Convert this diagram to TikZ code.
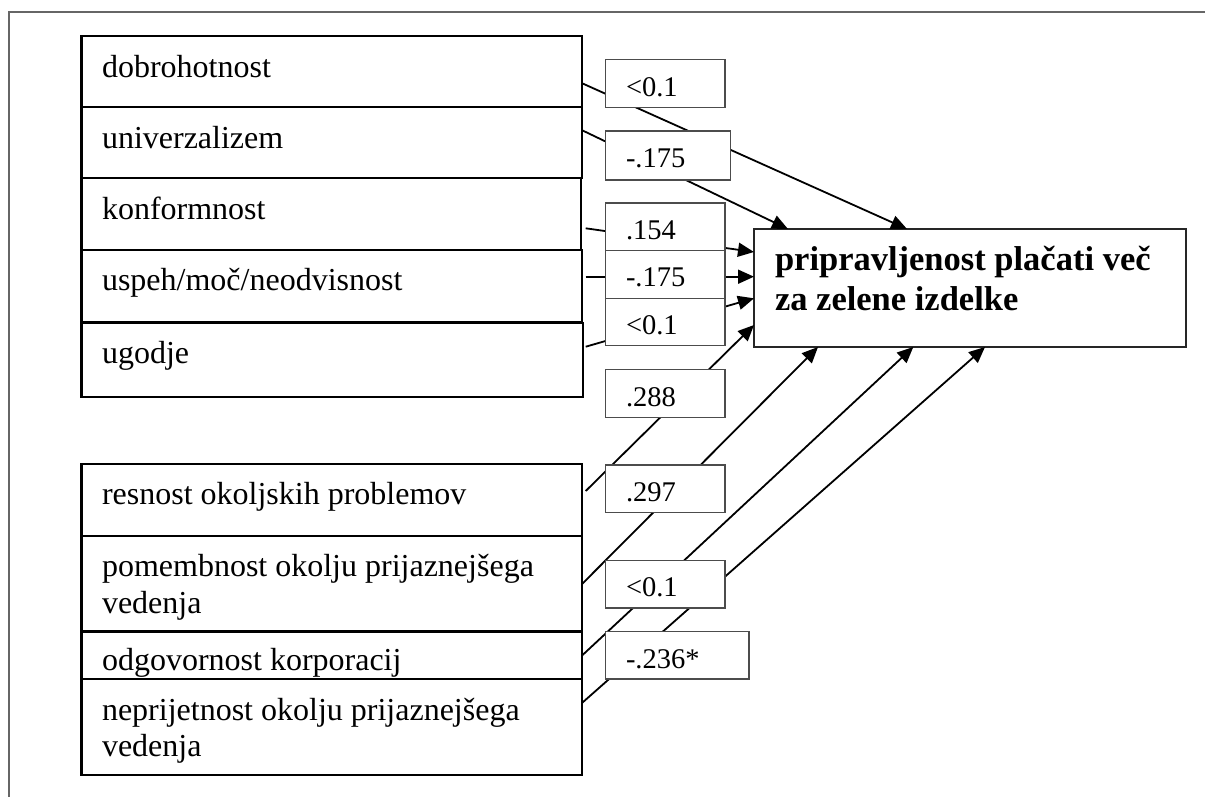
\documentclass[tikz,border=0pt]{standalone}
\usepackage{fontspec}
\setmainfont{Liberation Serif}
\usetikzlibrary{arrows.meta}
\begin{document}
\begin{tikzpicture}[x=1pt,y=-1pt,
  every node/.style={inner sep=0pt, outer sep=0pt},
  leftbox/.style={draw=black, line width=2.2pt, anchor=north west, minimum width=500.8pt},
  valbox/.style={draw=black!70, fill=white, line width=1.4pt, anchor=north west, minimum width=119.3pt},
  mainbox/.style={draw=black!85, line width=2pt, anchor=north west, minimum width=432pt, minimum height=118pt},
  ltext/.style={anchor=base west, font=\fontsize{32}{36}\selectfont},
  vtext/.style={anchor=base west, font=\fontsize{28.5}{32}\selectfont},
  mtext/.style={anchor=base west, font=\bfseries\fontsize{34.5}{39}\selectfont},
  conn/.style={line width=1.8pt, -{Triangle[length=16pt,width=14pt]}},
  outerframe/.style={draw=black!60, line width=2pt}]
\useasboundingbox (0,0) rectangle (1205,796);
\draw[outerframe] (9,800) -- (9,12) -- (1210,12);

% left boxes, top group
\node[leftbox, minimum height=71.3pt] (dob) at (81.5,36) {};
\node[leftbox, minimum height=70.7pt] (uni) at (81.5,107.3) {};
\node[leftbox, minimum height=72pt, minimum width=499.2pt] (kon) at (81.5,178) {};
\node[leftbox, minimum height=72pt] (usp) at (81.5,250) {};
\node[leftbox, minimum height=74pt, minimum width=501.8pt] (ugo) at (81.5,323) {};
% left boxes, bottom group
\node[leftbox, minimum height=72pt] (res) at (81.5,464) {};
\node[leftbox, minimum height=95.5pt] (pom) at (81.5,536) {};
\node[leftbox, minimum height=47.5pt] (odg) at (81.5,631.5) {};
\node[leftbox, minimum height=96pt] (nep) at (81.5,679) {};

\node[ltext] (dobT) at (102,77) {dobrohotnost};
\node[ltext] (uniT) at (102,148) {univerzalizem};
\node[ltext] (konT) at (102,219) {konformnost};
\node[ltext] (uspT) at (102,290) {uspeh/moč/neodvisnost};
\node[ltext] (ugoT) at (102,363) {ugodje};
\node[ltext] (resT) at (102,504) {resnost okoljskih problemov};
\node[ltext] (pomT) at (102,576.5) {pomembnost okolju prijaznejšega};
\node[ltext] (pomT2) at (102,613) {vedenja};
\node[ltext] (odgT) at (102,670) {odgovornost korporacij};
\node[ltext] (nepT) at (102,720) {neprijetnost okolju prijaznejšega};
\node[ltext] (nepT2) at (102,756.5) {vedenja};

% main box
\node[mainbox] (main) at (754,229) {};
\node[mtext] (mainT1) at (775,270.7) {pripravljenost plačati več};
\node[mtext] (mainT2) at (775,310) {za zelene izdelke};

% connectors
\draw[conn] ([yshift=-11.7pt]dob.east) -- ([xshift=153pt]main.north west);
\draw[conn] ([yshift=12.3pt]uni.east) -- ([xshift=34pt]main.north west);
\draw[conn] ([xshift=5pt,yshift=-14.3pt]kon.east) -- ([yshift=-23pt]main.north west);
\draw[conn] ([xshift=3.4pt,yshift=9.3pt]usp.east) -- ([yshift=-47.7pt]main.north west);
\draw[conn] ([xshift=2.4pt,yshift=13.3pt]ugo.east) -- ([yshift=-69.3pt]main.north west);
\draw[conn] ([xshift=3.4pt,yshift=9pt]res.east) -- ([yshift=-96pt]main.north west);
\draw[conn] (pom.east) -- ([xshift=64pt]main.south west);
\draw[conn] (odg.east) -- ([xshift=159.3pt]main.south west);
\draw[conn] ([yshift=24.3pt]nep.east) -- ([xshift=231pt]main.south west);

% value boxes
\node[valbox, minimum height=47.6pt] (v1) at (605.7,59.7) {};
\node[valbox, minimum height=49pt, minimum width=124.6pt] (v2) at (605.7,131) {};
\node[valbox, minimum height=47.7pt] (v3) at (605.7,203) {};
\node[valbox, minimum height=47.6pt] (v4) at (605.7,250.7) {};
\node[valbox, minimum height=47.4pt] (v5) at (605.7,298.3) {};
\node[valbox, minimum height=48pt] (v6) at (605.7,369.3) {};
\node[valbox, minimum height=47.3pt] (v7) at (605.7,465) {};
\node[valbox, minimum height=47.3pt] (v8) at (605.7,560.7) {};
\node[valbox, minimum height=47.3pt, minimum width=143.3pt] (v9) at (605.7,631.7) {};

\node[vtext] (v1T) at (626,96.7) {<0.1};
\node[vtext] (v2T) at (626,167.3) {-.175};
\node[vtext] (v3T) at (626,239) {.154};
\node[vtext] (v4T) at (626,286.7) {-.175};
\node[vtext] (v5T) at (626,334) {<0.1};
\node[vtext] (v6T) at (626,406.7) {.288};
\node[vtext] (v7T) at (626,501.7) {.297};
\node[vtext] (v8T) at (626,596.7) {<0.1};
\node[vtext] (v9T) at (626,668.3) {-.236*};
\end{tikzpicture}
\end{document}
